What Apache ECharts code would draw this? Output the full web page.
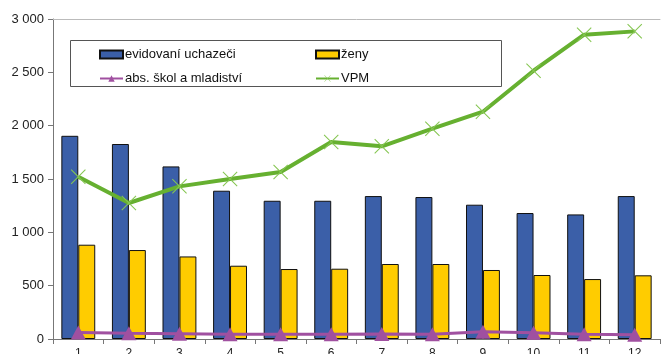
<!DOCTYPE html>
<html><head><meta charset="utf-8">
<script src="https://cdn.jsdelivr.net/npm/echarts@6/dist/echarts.min.js"></script>
<style>html,body{margin:0;padding:0;background:#fff}#c{width:663px;height:354px}</style>
</head><body><div id="c"></div>
<script>
var categories = ['1','2','3','4','5','6','7','8','9','10','11','12'];
var evidovani = [1905, 1828, 1618, 1390, 1296, 1296, 1340, 1331, 1259, 1181, 1168, 1340];
var zeny = [884, 834, 774, 687, 656, 659, 703, 703, 647, 600, 562, 597];
var absolventi = [62, 55, 50, 45, 45, 45, 48, 45, 68, 58, 45, 40];
var vpm = [1522, 1275, 1431, 1500, 1566, 1847, 1806, 1972, 2131, 2515, 2853, 2884];
var yTicks = { min: 0, max: 3000, interval: 500 };

var chart = echarts.init(document.getElementById('c'), null, {renderer: 'canvas'});
var font = 'Liberation Sans, Arial, sans-serif';
var xPath = 'path://M0,1 L1,0 L10,9 L19,0 L20,1 L11,10 L20,19 L19,20 L10,11 L1,20 L0,19 L9,10 Z';
function fmt(v){ return String(v).replace(/\B(?=(\d{3})+(?!\d))/g, ' '); }
function leg(name, left, top, icon){
  return { data: [icon ? {name: name, icon: icon} : name], left: left, top: top, orient: 'horizontal',
    itemWidth: 23, itemHeight: 8, itemGap: 0, padding: 0,
    textStyle: { fontFamily: font, fontSize: 13, color: '#111', padding: [0,0,0,-3] } };
}
chart.setOption({
  animation: false,
  grid: { left: 53, right: 3, top: 19, bottom: 15, containLabel: false, outerBoundsMode: 'none' },
  graphic: [{ type: 'rect', shape: { x: 70.5, y: 40.5, width: 431, height: 46 },
    style: { fill: '#fff', stroke: '#555', lineWidth: 1 }, z: 0 }],
  legend: [
    leg('evidovaní uchazeči', 99, 48, 'rect'),
    leg('ženy', 315, 48, 'rect'),
    leg('abs. škol a mladiství', 99, 72),
    leg('VPM', 315, 72)
  ],
  xAxis: [{
    type: 'category', data: categories, position: 'bottom',
    axisLine: { lineStyle: { color: '#777', width: 1 } },
    axisTick: { show: true, alignWithLabel: false, length: 5, lineStyle: { color: '#777' } },
    axisLabel: { fontFamily: font, fontSize: 12, color: '#222', margin: 9 }
  }, {
    type: 'category', data: categories, position: 'top',
    axisLine: { lineStyle: { color: '#bbb', width: 1 } },
    axisTick: { show: false }, axisLabel: { show: false }
  }],
  yAxis: {
    type: 'value', min: yTicks.min, max: yTicks.max, interval: yTicks.interval,
    axisLine: { show: true, lineStyle: { color: '#777' } },
    axisTick: { show: true, length: 5, lineStyle: { color: '#777' } },
    splitLine: { show: false },
    axisLabel: { fontFamily: font, fontSize: 13, color: '#222', margin: 9, formatter: fmt }
  },
  series: [
    { name: 'evidovaní uchazeči', type: 'bar', data: evidovani, barGap: '0%', barCategoryGap: '33%',
      itemStyle: { color: '#3b5fa8', borderColor: '#111', borderWidth: 1 } },
    { name: 'ženy', type: 'bar', data: zeny,
      itemStyle: { color: '#ffcc00', borderColor: '#111', borderWidth: 1 } },
    { name: 'abs. škol a mladiství', type: 'line', data: absolventi, symbol: 'triangle', symbolSize: [15, 14],
      lineStyle: { color: '#a050a0', width: 3 }, itemStyle: { color: '#a050a0' }, z: 5 },
    { name: 'VPM', type: 'line', data: vpm, symbol: xPath, symbolSize: 15,
      lineStyle: { color: '#66b030', width: 4 }, itemStyle: { color: '#86c652' }, z: 6 }
  ]
});
</script></body></html>
